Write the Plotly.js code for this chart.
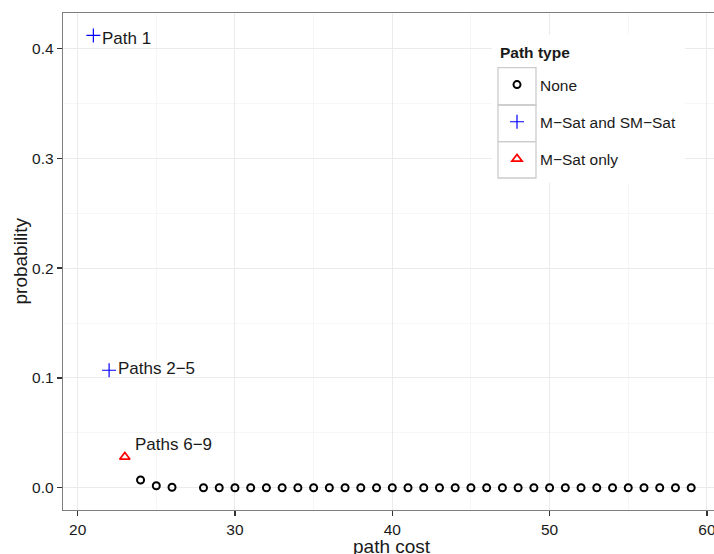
<!DOCTYPE html>
<html>
<head>
<meta charset="utf-8">
<script src="https://cdn.plot.ly/plotly-3.0.1.min.js"></script>
<style>html,body{margin:0;padding:0;background:#fff;}#chart{width:714px;height:554px;}</style>
</head>
<body>
<div id="chart"></div>
<script>
// Data
const noneCost = [24, 25, 26, 28, 29, 30, 31, 32, 33, 34, 35, 36, 37, 38, 39, 40, 41, 42, 43, 44, 45, 46, 47, 48, 49, 50, 51, 52, 53, 54, 55, 56, 57, 58, 59];
const noneProb = [0.007, 0.0018, 0.0004, 0, 0, 0, 0, 0, 0, 0, 0, 0, 0, 0, 0, 0, 0, 0, 0, 0, 0, 0, 0, 0, 0, 0, 0, 0, 0, 0, 0, 0, 0, 0, 0];
const bothCost = [21, 22];
const bothProb = [0.412, 0.107];
const msatCost = [23];
const msatProb = [0.028];
const seriesNames = ["None", "M\u2212Sat and SM\u2212Sat", "M\u2212Sat only"];
const legendTitle = "Path type";
const xTitle = "path cost";
const yTitle = "probability";
const labelText = ["Path 1", "Paths 2\u22125", "Paths 6\u22129"];
const labelCost = [21.4, 22.45, 23.5];
const labelProb = [0.4095, 0.1088, 0.0393];
const xTicks = [20, 30, 40, 50, 60];
const yTicks = [0.0, 0.1, 0.2, 0.3, 0.4];

const FONT = '"Liberation Sans", Arial, Helvetica, sans-serif';
const TXT = '#1a1a1a';

const traces = [
  {x: noneCost, y: noneProb, name: seriesNames[0], type: 'scatter', mode: 'markers', legendgroup: 'a',
   marker: {symbol: 'circle-open', size: 7, color: '#000000', line: {width: 2, color: '#000000'}}},
  {x: bothCost, y: bothProb, name: seriesNames[1], type: 'scatter', mode: 'markers', legendgroup: 'b',
   marker: {symbol: 'cross-thin-open', size: 10, color: '#0000ff', line: {width: 1.2, color: '#0000ff'}}},
  {x: msatCost, y: msatProb, name: seriesNames[2], type: 'scatter', mode: 'markers', legendgroup: 'c',
   marker: {symbol: 'triangle-up-open', size: 9, color: '#ff0000', line: {width: 1.7, color: '#ff0000'}}}
];

function px2x(p) { return (p - 63) / 651; }
function py2y(p) { return (510 - p) / 497; }

const shapes = [
  {type: 'rect', xref: 'paper', yref: 'paper', layer: 'above',
   x0: px2x(492), x1: px2x(685), y0: py2y(183), y1: py2y(35),
   fillcolor: '#ffffff', line: {width: 0}}
];
const rowEdges = [67.7, 105, 141.7, 178];
for (let i = 0; i < 3; i++) {
  shapes.push({type: 'rect', xref: 'paper', yref: 'paper', layer: 'above',
    x0: px2x(498), x1: px2x(536), y0: py2y(rowEdges[i + 1]), y1: py2y(rowEdges[i]),
    fillcolor: 'rgba(0,0,0,0)', line: {width: 1.3, color: '#cccccc'}});
}

const annotations = labelText.map((t, i) => ({
  x: labelCost[i], y: labelProb[i], xref: 'x', yref: 'y', text: t, showarrow: false,
  xanchor: 'left', yanchor: 'middle', font: {family: FONT, size: 17, color: TXT}
}));
annotations.push({
  x: px2x(498), y: py2y(53), xref: 'paper', yref: 'paper', text: '<b>' + legendTitle + '</b>',
  showarrow: false, xanchor: 'left', yanchor: 'middle', font: {family: FONT, size: 15.5, color: TXT}
});
annotations.push({
  x: px2x(392), y: py2y(546), xref: 'paper', yref: 'paper', text: xTitle,
  showarrow: false, xanchor: 'center', yanchor: 'middle', font: {family: FONT, size: 19, color: TXT}
});
annotations.push({
  x: px2x(19.5), y: py2y(261), xref: 'paper', yref: 'paper', text: yTitle, textangle: -90,
  showarrow: false, xanchor: 'center', yanchor: 'middle', font: {family: FONT, size: 19, color: TXT}
});

const layout = {
  width: 714, height: 554,
  margin: {l: 63, r: 0, t: 13, b: 44, pad: 0},
  paper_bgcolor: '#ffffff', plot_bgcolor: '#ffffff',
  font: {family: FONT, color: TXT},
  showlegend: true,
  xaxis: {
    range: [19.07, 60.45], tickvals: xTicks, ticktext: xTicks.map(String),
    showgrid: true, gridcolor: '#ebebeb', gridwidth: 1,
    minor: {dtick: 5, tick0: 0, showgrid: true, gridcolor: '#f6f6f6', gridwidth: 1, ticks: ''},
    zeroline: false, showline: true, linecolor: '#7f7f7f', linewidth: 1.3, mirror: true,
    ticks: 'outside', ticklen: 5, tickwidth: 1.3, tickcolor: '#333333',
    ticklabeloverflow: 'allow',
    tickfont: {family: FONT, size: 15.5, color: TXT},
    automargin: false
  },
  yaxis: {
    range: [-0.0203, 0.4324], tickvals: yTicks, ticktext: yTicks.map(v => v.toFixed(1)),
    showgrid: true, gridcolor: '#ebebeb', gridwidth: 1,
    minor: {dtick: 0.05, tick0: 0, showgrid: true, gridcolor: '#f6f6f6', gridwidth: 1, ticks: ''},
    zeroline: false, showline: true, linecolor: '#7f7f7f', linewidth: 1.3, mirror: false,
    ticks: 'outside', ticklen: 5, tickwidth: 1.3, tickcolor: '#333333',
    tickfont: {family: FONT, size: 15.5, color: TXT},
    automargin: false
  },
  legend: {
    x: px2x(494), xanchor: 'left', y: py2y(68), yanchor: 'top',
    bgcolor: 'rgba(0,0,0,0)', borderwidth: 0,
    itemwidth: 36, traceorder: 'grouped', tracegroupgap: 14,
    font: {family: FONT, size: 15.5, color: TXT}
  },
  shapes: shapes,
  annotations: annotations
};

Plotly.newPlot('chart', traces, layout, {displayModeBar: false, staticPlot: true});
</script>
</body>
</html>
